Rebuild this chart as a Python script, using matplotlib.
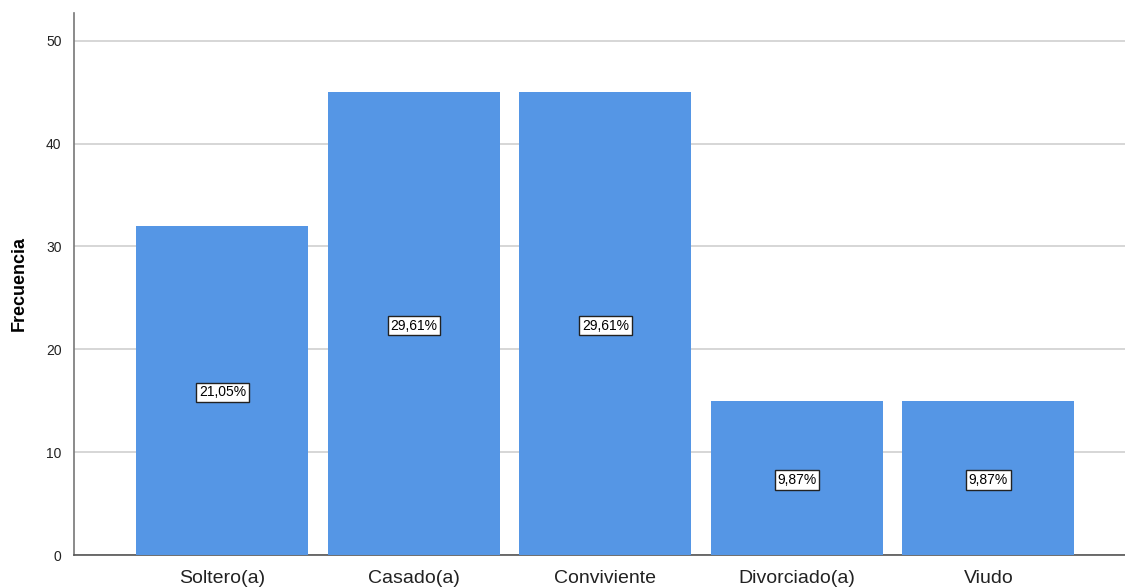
import matplotlib
matplotlib.use('Agg')
import matplotlib.pyplot as plt
import numpy as np

# data
categorias = ['Soltero(a)', 'Casado(a)', 'Conviviente', 'Divorciado(a)', 'Viudo']
frecuencia = [32, 45, 45, 15, 15]
porcentajes = ['21,05%', '29,61%', '29,61%', '9,87%', '9,87%']
y_ticks = [0, 10, 20, 30, 40, 50]

plt.rcParams['font.family'] = ['Liberation Sans', 'DejaVu Sans']

fig = plt.figure(figsize=(11.25, 5.87), dpi=100)
ax = fig.add_axes([0.0658, 0.0545, 0.9342, 0.9235])

x = np.arange(len(categorias))
ax.bar(x, frecuencia, width=0.898, color='#5596E5', zorder=3)

for xi, f, p in zip(x, frecuencia, porcentajes):
    ax.text(xi, f / 2 - 0.2, p, ha='center', va='center', fontsize=10, zorder=4,
            bbox=dict(boxstyle='square,pad=0.2', facecolor='white',
                      edgecolor='#222222', linewidth=1.0))

ax.set_xlim(-0.775, 4.713)
ax.set_ylim(0, 52.7)
ax.set_xticks(x)
ax.set_xticklabels(categorias, fontsize=14, color='#222222')
ax.set_yticks(y_ticks)
ax.set_yticklabels([str(t) for t in y_ticks], fontsize=10, color='#222222')
ax.tick_params(axis='both', length=0)
ax.tick_params(axis='x', pad=11)
ax.tick_params(axis='y', pad=9)

ax.yaxis.grid(True, color='#D3D3D3', linewidth=1.3, zorder=0)
ax.set_axisbelow(True)

for s in ['top', 'right']:
    ax.spines[s].set_visible(False)
ax.spines['left'].set_color('#777777')
ax.spines['bottom'].set_color('#555555')
ax.spines['left'].set_linewidth(1.2)
ax.spines['bottom'].set_linewidth(1.2)

ax.set_ylabel('Frecuencia', fontsize=13, fontweight='bold', labelpad=13)

plt.savefig('out.png', dpi=100)
